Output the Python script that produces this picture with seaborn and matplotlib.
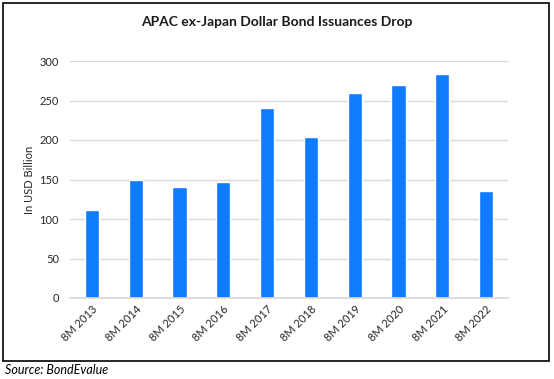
import matplotlib
matplotlib.use("Agg")
import matplotlib.pyplot as plt
import seaborn as sns
import pandas as pd
from matplotlib.patches import Rectangle

periods = ["8M 2013", "8M 2014", "8M 2015", "8M 2016", "8M 2017",
           "8M 2018", "8M 2019", "8M 2020", "8M 2021", "8M 2022"]
issuance = [112, 150, 141, 147, 240, 204, 259, 270, 283, 136]

df = pd.DataFrame({"period": periods, "issuance": issuance})

sns.set_theme(style="white")
plt.rcParams["font.family"] = ["Lato", "DejaVu Sans"]

W, H = 554, 379
fig = plt.figure(figsize=(W / 100, H / 100), dpi=100)
ax = fig.add_axes([70 / W, 1 - 298 / H, (508 - 70) / W, (298 - 61) / H])

sns.barplot(data=df, x="period", y="issuance", color="#0f7bff",
            width=0.32, saturation=1, ax=ax)

ax.set_ylim(0, 300)
ax.set_yticks(range(0, 301, 50))
ax.yaxis.grid(True, color="#d9d9d9", linewidth=1)
ax.set_axisbelow(True)
for s in ["top", "right", "left"]:
    ax.spines[s].set_visible(False)
ax.spines["bottom"].set_color("#d9d9d9")
ax.tick_params(axis="both", length=0, labelsize=8, colors="#262626")
ax.tick_params(axis="y", pad=8)
ax.tick_params(axis="x", pad=4)
plt.setp(ax.get_xticklabels(), rotation=45, ha="right", rotation_mode="anchor")
ax.set_xlabel("")
ax.set_ylabel("In USD Billion", fontsize=8, color="#262626", labelpad=3)

fig.text(277 / W, 1 - 22 / H, "APAC ex-Japan Dollar Bond Issuances Drop",
         ha="center", va="center", fontsize=10, fontweight="bold", color="#1a1a1a")

fig.patches.append(Rectangle((3 / W, 1 - 361 / H), (549 - 3) / W, (361 - 3) / H,
                             transform=fig.transFigure, fill=False,
                             edgecolor="black", linewidth=1.2))

fig.text(5 / W, 1 - 370 / H, "Source: BondEvalue", ha="left", va="center",
         fontsize=9, style="italic", color="black")

fig.savefig("out.png", dpi=100, facecolor="white")
